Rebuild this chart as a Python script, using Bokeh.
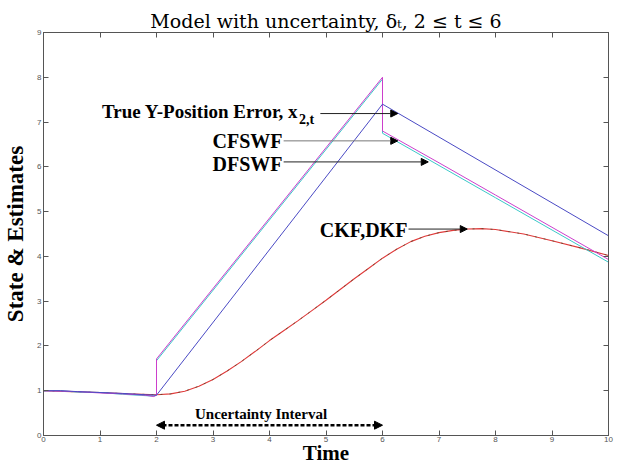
from bokeh.plotting import figure
from bokeh.models import Range1d, LinearAxis, FixedTicker, Label, Arrow, NormalHead, Title
from bokeh.embed import file_html
from bokeh.resources import INLINE

# ---------------- data ----------------
x_ticks = [0, 1, 2, 3, 4, 5, 6, 7, 8, 9, 10]
y_ticks = [0, 1, 2, 3, 4, 5, 6, 7, 8, 9]

t_true = [0.0, 0.3, 0.6, 1.0, 1.4, 1.8, 2.0, 6.0, 10.0]
true_state = [1.0, 1.0, 0.98, 0.96, 0.94, 0.91, 0.9, 7.4, 4.46]

t_cfswf = [0.0, 0.3, 0.6, 1.0, 1.4, 1.8, 1.95, 2.0, 2.0, 6.0, 6.0, 7.0, 8.0, 9.0, 10.0]
cfswf = [1.0, 0.99, 0.98, 0.95, 0.93, 0.9, 0.87, 0.9, 1.71, 8.0, 6.8, 6.09, 5.37, 4.65, 3.93]

t_dfswf = [0.0, 0.3, 0.6, 1.0, 1.4, 1.8, 1.95, 2.0, 2.0, 6.0, 6.0, 7.0, 8.0, 9.0, 10.0]
dfswf = [1.0, 1.0, 0.97, 0.96, 0.92, 0.89, 0.88, 0.9, 1.67, 7.96, 6.75, 6.03, 5.31, 4.59, 3.87]

t_kf = [0, 0.5, 1, 1.5, 2, 2.25, 2.5, 2.75, 3, 3.25, 3.5, 3.75, 4, 4.25, 4.5, 4.75, 5,
        5.25, 5.5, 5.75, 6, 6.25, 6.5, 6.75, 7, 7.25, 7.5, 7.75, 8, 8.5, 9, 9.5, 10]
ckf = [1.0, 0.98, 0.96, 0.93, 0.91, 0.93, 0.99, 1.1, 1.25, 1.44, 1.65, 1.88, 2.12, 2.34,
       2.56, 2.79, 3.02, 3.26, 3.5, 3.73, 3.96, 4.16, 4.33, 4.45, 4.53, 4.58, 4.61, 4.62,
       4.6, 4.5, 4.35, 4.19, 4.02]
dkf = [1.0, 0.98, 0.96, 0.93, 0.91, 0.93, 0.99, 1.1, 1.25, 1.44, 1.65, 1.88, 2.12, 2.34,
       2.56, 2.79, 3.02, 3.26, 3.5, 3.73, 3.96, 4.16, 4.33, 4.45, 4.53, 4.58, 4.61, 4.62,
       4.6, 4.5, 4.35, 4.19, 4.02]

# ---------------- figure ----------------
SERIF = "Liberation Serif"
p = figure(width=619, height=467, x_range=Range1d(0, 10), y_range=Range1d(0, 9),
           output_backend="svg", toolbar_location=None,
           min_border_left=43, min_border_right=11, min_border_top=32, min_border_bottom=30,
           background_fill_color="white", border_fill_color="white")
p.grid.visible = False
p.outline_line_color = "#555555"
p.outline_line_width = 1

p.title = Title(text="Model with uncertainty, δₜ, 2 ≤ t ≤ 6", align="center",
                text_font="DejaVu Serif", text_font_size="19px", text_font_style="normal",
                text_color="black", standoff=1)

AX = "#555555"
for ax in (p.xaxis[0], p.yaxis[0]):
    ax.axis_line_color = AX
    ax.major_tick_line_color = AX
    ax.major_tick_in = 5
    ax.major_tick_out = 0
    ax.minor_tick_line_color = None
    ax.major_label_text_font = "Liberation Sans"
    ax.major_label_text_font_size = "8px"
    ax.major_label_text_color = "#555555"
    ax.axis_label_text_font = SERIF
    ax.axis_label_text_font_style = "bold"
    ax.axis_label_text_color = "black"
p.xaxis[0].ticker = FixedTicker(ticks=x_ticks)
p.yaxis[0].ticker = FixedTicker(ticks=y_ticks)
p.xaxis[0].major_label_standoff = 1
p.yaxis[0].major_label_standoff = 2
p.xaxis[0].axis_label = "Time"
p.xaxis[0].axis_label_text_font_size = "21px"
p.xaxis[0].axis_label_standoff = -4
p.yaxis[0].axis_label = "State & Estimates"
p.yaxis[0].axis_label_text_font_size = "23px"
p.yaxis[0].axis_label_standoff = 6

top_ax = LinearAxis(ticker=FixedTicker(ticks=x_ticks),
                    major_label_overrides={v: "" for v in x_ticks},
                    axis_line_color=AX, major_tick_line_color=AX,
                    major_tick_in=5, major_tick_out=0, minor_tick_line_color=None,
                    major_label_standoff=0, major_label_text_font_size="1px")
right_ax = LinearAxis(ticker=FixedTicker(ticks=y_ticks),
                      major_label_overrides={v: "" for v in y_ticks},
                      axis_line_color=AX, major_tick_line_color=AX,
                      major_tick_in=5, major_tick_out=0, minor_tick_line_color=None,
                      major_label_standoff=0, major_label_text_font_size="1px")
p.add_layout(top_ax, "above")
p.add_layout(right_ax, "right")

# ---------------- series ----------------
p.line(t_kf, ckf, line_color="#e03a3a", line_width=1.1)
p.line(t_kf, dkf, line_color="#2f4a22", line_width=0.9, line_dash="2 7", line_alpha=0.7)
p.line(t_dfswf, dfswf, line_color="#3cc8c8", line_width=1.0)
p.line(t_cfswf, cfswf, line_color="#cc3fcc", line_width=1.0)
p.line(t_true, true_state, line_color="#4a4ac4", line_width=1.0)

# ---------------- annotations ----------------
def lab(x, y, text, size, align="left", baseline="middle", style="bold"):
    p.add_layout(Label(x=x, y=y, text=text, text_font=SERIF, text_font_size=size,
                       text_font_style=style, text_align=align, text_baseline=baseline,
                       text_color="black"))

def arr(x0, y0, x1, y1, color="#222222"):
    p.add_layout(Arrow(x_start=x0, y_start=y0, x_end=x1, y_end=y1,
                       line_color=color, line_width=1,
                       end=NormalHead(size=7, fill_color="black", line_color="black")))

lab(4.51, 7.23, "True Y-Position Error, x", "19px", align="right")
lab(4.52, 7.06, "2,t", "14px", align="left")
arr(4.90, 7.19, 6.27, 7.19)
lab(4.23, 6.58, "CFSWF", "20px", align="right")
arr(4.25, 6.58, 6.27, 6.58, color="#777777")
lab(4.23, 6.07, "DFSWF", "20px", align="right")
arr(4.25, 6.11, 6.81, 6.11)
lab(6.44, 4.6, "CKF,DKF", "20px", align="right")
arr(6.46, 4.61, 7.50, 4.61)

lab(3.85, 0.47, "Uncertainty Interval", "15px", align="center")
p.add_layout(Arrow(x_start=2.0, y_start=0.23, x_end=6.0, y_end=0.23,
                   line_color="black", line_width=2.5, line_dash="4 2",
                   start=NormalHead(size=8, fill_color="black", line_color="black"),
                   end=NormalHead(size=8, fill_color="black", line_color="black")))

open("out.html", "w").write(file_html(p, INLINE))
